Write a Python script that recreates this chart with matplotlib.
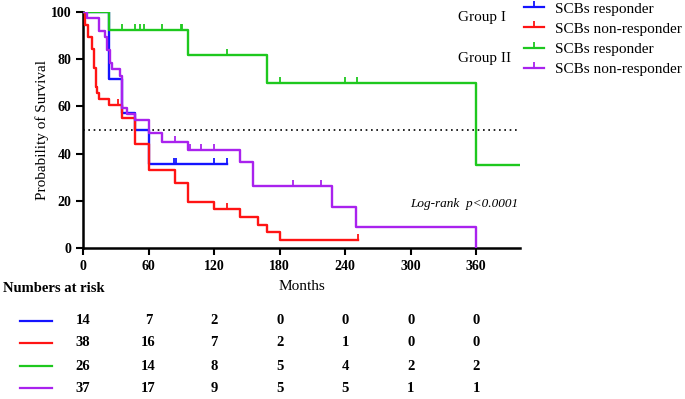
import numpy as np
import matplotlib
matplotlib.use("Agg")
import matplotlib.pyplot as plt
from matplotlib.path import Path
from matplotlib.lines import Line2D
from matplotlib.transforms import blended_transform_factory

plt.rcParams['font.family'] = ['Liberation Serif', 'DejaVu Serif']

# ---- data ----
labels = ["SCBs responder", "SCBs non-responder", "SCBs responder", "SCBs non-responder"]
colors = ["#1414ff", "#ff1414", "#1ec81e", "#a922ee"]

t_blue = [0, 24, 36, 48, 60]
s_blue = [100, 71.4, 57.1, 50.0, 35.7]
end_blue = 132
c_blue = [83, 85, 120, 132]

t_red = [0, 2, 5, 8, 10, 12, 13, 15, 24, 36, 48, 60, 84, 96, 120, 144, 160, 168, 180]
s_red = [100, 94.7, 89.5, 84.2, 76.3, 68.4, 65.8, 63.2, 60.5, 55.1, 44.0, 33.0, 27.5,
         19.3, 16.5, 13.1, 9.9, 6.6, 3.3]
end_red = 252
c_red = [32, 132, 252]

t_green = [0, 24, 96, 168, 360]
s_green = [100, 92.3, 81.8, 70.1, 35.0]
end_green = 400
c_green = [12, 36, 48, 52, 56, 72, 90, 91, 132, 180, 240, 251]

t_purple = [0, 4, 15, 20, 22, 25, 27, 34, 36, 40, 48, 60, 72, 96, 144, 156, 228, 250, 360]
s_purple = [100, 97.3, 91.9, 89.2, 83.8, 78.4, 75.7, 73.0, 59.5, 56.8, 54.1, 48.6, 45.0,
            41.7, 36.4, 26.1, 17.4, 8.7, 0.0]
end_purple = 360
c_purple = [84, 98, 108, 120, 192, 218]

risk_times = [0, 60, 120, 180, 240, 300, 360]
risk_blue = [14, 7, 2, 0, 0, 0, 0]
risk_red = [38, 16, 7, 2, 1, 0, 0]
risk_green = [26, 14, 8, 5, 4, 2, 2]
risk_purple = [37, 17, 9, 5, 5, 1, 1]

x_ticks = [0, 60, 120, 180, 240, 300, 360]
y_ticks = [0, 20, 40, 60, 80, 100]

curves = [
    (t_blue, s_blue, end_blue, c_blue),
    (t_red, s_red, end_red, c_red),
    (t_green, s_green, end_green, c_green),
    (t_purple, s_purple, end_purple, c_purple),
]
risks = [risk_blue, risk_red, risk_green, risk_purple]

# ---- figure ----
fig = plt.figure(figsize=(6.85, 3.99), dpi=100)
ax = fig.add_axes([83/685, 1-248/399, (520-83)/685, (248-12)/399])

tick_marker = Path([(0, 0), (0, 1)], [Path.MOVETO, Path.LINETO])

def surv_at(t, s, x):
    i = np.searchsorted(np.asarray(t), x, side='right') - 1
    return np.asarray(s)[i]

for (t, s, end, cens), col in zip(curves, colors):
    tt = list(t) + [end]
    ss = list(s) + [s[-1]]
    ax.step(tt, ss, where='post', color=col, lw=1.7, zorder=3)
    cy = [surv_at(t, s, c) for c in cens]
    ax.plot(cens, cy, ls='none', marker=tick_marker, markersize=8,
            markeredgewidth=1.3, color=col, zorder=3)

ax.axhline(50, xmin=0, xmax=397/400, color='black', ls=(0, (1, 2.2)), lw=1.2, zorder=1)

ax.set_xlim(0, 400)
ax.set_ylim(0, 100)
ax.set_xticks(x_ticks)
ax.set_yticks(y_ticks)
for sp in ['top', 'right']:
    ax.spines[sp].set_visible(False)
for sp in ['left', 'bottom']:
    ax.spines[sp].set_linewidth(1.8)
ax.tick_params(axis='both', width=1.5, length=5, direction='out', labelsize=10)
for lab in ax.get_xticklabels() + ax.get_yticklabels():
    lab.set_fontweight('bold')
ax.set_ylabel("Probability of Survival", fontsize=11, labelpad=1)
ax.set_xlabel("Months", fontsize=11, labelpad=5)

ax.text(0.995, 0.185, "Log-rank  p<0.0001", transform=ax.transAxes, ha='right',
        va='center', fontsize=9.5, style='italic')

# legend
handles = [Line2D([], [], color=c, lw=1.6, marker=tick_marker, markersize=8,
                  markeredgewidth=1.3) for c in colors]
leg = fig.legend(handles=handles, labels=labels, loc='upper left',
                 bbox_to_anchor=(524/685, 1 - 2/399), frameon=False, fontsize=11,
                 numpoints=1, handlelength=1.3, handletextpad=0.7, labelspacing=0.42,
                 borderaxespad=0, borderpad=0)
fig.text(458/685, 1-18/399, "Group I", fontsize=11, ha='left', va='center')
fig.text(458/685, 1-58.5/399, "Group II", fontsize=11, ha='left', va='center')

# numbers at risk
fig.text(3/685, 1-289/399, "Numbers at risk", fontsize=10.5, fontweight='bold',
         ha='left', va='center')
row_y = [321, 343, 366, 388]
btr = blended_transform_factory(ax.transData, fig.transFigure)
for r, col, yy in zip(risks, colors, row_y):
    yf = 1 - yy/399
    fig.add_artist(Line2D([20/685, 52/685], [yf, yf], color=col, lw=1.6,
                          transform=fig.transFigure))
    for xt, v in zip(risk_times, r):
        ax.text(xt, yf, str(v), transform=btr, ha='center', va='center',
                fontsize=10.5, fontweight='bold', clip_on=False)

fig.savefig("out.png", dpi=100)
